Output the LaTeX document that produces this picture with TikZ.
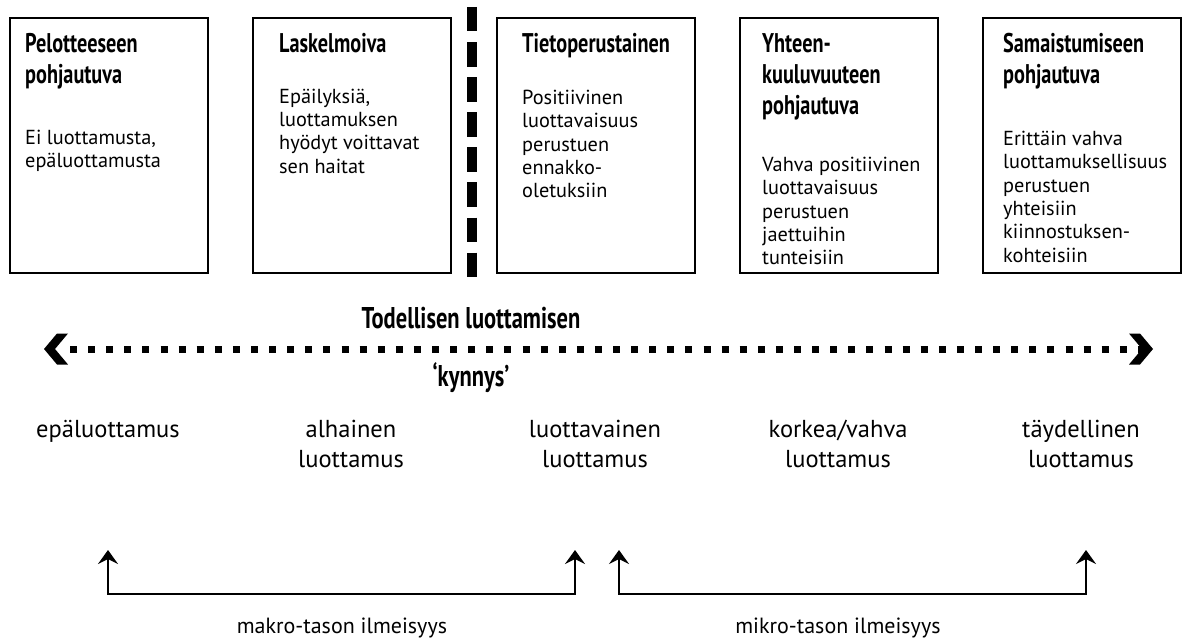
\documentclass[tikz,border=0pt]{standalone}
\usepackage{fontspec}
\setmainfont{PT Sans}
\newfontfamily\bodyfont{PT Sans}
\newfontfamily\headfont[FakeStretch=0.75]{PT Sans}
\usetikzlibrary{arrows.meta}
% invisible rule that fixes the height of a text block's first line
\newcommand\lineheight[1]{\rule{0pt}{#1}}
\begin{document}
\begin{tikzpicture}[x=1pt,y=-1pt,
  kindbox/.style={draw, line width=2.2pt, anchor=north west, inner sep=0pt,
    minimum width=198pt, minimum height=255pt},
  headtext/.style={anchor=north west, inner sep=0pt, align=left,
    font=\headfont\bfseries\fontsize{27}{31}\selectfont},
  bodytext/.style={anchor=north west, inner sep=0pt, align=left,
    font=\bodyfont\fontsize{20.3}{23.4}\selectfont},
  leveltext/.style={anchor=north, inner sep=0pt, align=center,
    font=\bodyfont\fontsize{24.5}{30}\selectfont},
  scopetext/.style={anchor=north, inner sep=0pt, align=center,
    font=\bodyfont\fontsize{22}{26}\selectfont},
  thresholdtext/.style={anchor=north, inner sep=0pt, align=center,
    font=\headfont\bfseries\fontsize{30}{34}\selectfont},
  dotline/.style={line width=7pt, line cap=butt, dash pattern=on 7pt off 11.1pt},
  splitline/.style={line width=10pt, line cap=butt, dash pattern=on 24.5pt off 10.6pt},
  bracket/.style={line width=2pt, {Stealth[length=14pt,width=20pt,inset=5pt]}-{Stealth[length=14pt,width=20pt,inset=5pt]}},
  chevron/.style={fill=black, draw=none}
]
\useasboundingbox (0,0) rectangle (1186,639);

% the five kinds of trust
\node[kindbox] (b1) at (9,17) {};
\node[kindbox] (b2) at (252,17) {};
\node[kindbox] (b3) at (496,17) {};
\node[kindbox] (b4) at (739,17) {};
\node[kindbox] (b5) at (982,17) {};

\node[headtext] (h1) at (25,28) {\lineheight{24pt}Pelotteeseen\\pohjautuva};
\node[bodytext] (d1) at (25,126) {\lineheight{18pt}Ei luottamusta,\\epäluottamusta};

\node[headtext] (h2) at (279,28) {\lineheight{24pt}Laskelmoiva};
\node[bodytext] (d2) at (279,85) {\lineheight{18pt}Epäilyksiä,\\luottamuksen\\hyödyt voittavat\\sen haitat};

\node[headtext] (h3) at (522,28) {\lineheight{24pt}Tietoperustainen};
\node[bodytext] (d3) at (522,86) {\lineheight{18pt}Positiivinen\\luottavaisuus\\perustuen\\ennakko-\\oletuksiin};

\node[headtext] (h4) at (762,28) {\lineheight{24pt}Yhteen-\\kuuluvuuteen\\pohjautuva};
\node[bodytext] (d4) at (762,153) {\lineheight{18pt}Vahva positiivinen\\luottavaisuus\\perustuen\\jaettuihin\\tunteisiin};

\node[headtext] (h5) at (1003,28) {\lineheight{24pt}Samaistumiseen\\pohjautuva};
\node[bodytext] (d5) at (1003,127) {\lineheight{18pt}Erittäin vahva\\luottamuksellisuus\\perustuen\\yhteisiin\\kiinnostuksen-\\kohteisiin};

% threshold of real trust
\coordinate (st) at (471.5,7);
\coordinate (sb) at (471.5,280.5);
\draw[splitline] (st) -- (sb);

\node[thresholdtext] (th) at (471,300) {\lineheight{28pt}Todellisen luottamisen};
\node[thresholdtext] (ky) at (471,358) {\lineheight{28pt}‘kynnys’};

% dotted scale with chevron ends
\coordinate (tl) at (44,349);
\coordinate (tr) at (1153,349);
\draw[dotline] ([xshift=26pt]tl) -- ([xshift=-10pt]tr);
\fill[chevron] (tl) -- ++(13,-15.5) -- ++(11,0) -- ++(-13,15.5) -- ++(13,15.5) -- ++(-11,0) -- cycle;
\fill[chevron] (tr) -- ++(-13,-15.5) -- ++(-11,0) -- ++(13,15.5) -- ++(-13,15.5) -- ++(11,0) -- cycle;

% levels of trust
\node[leveltext] (l1) at (108,415) {\lineheight{22pt}epäluottamus};
\node[leveltext] (l2) at (351,415) {\lineheight{22pt}alhainen\\luottamus};
\node[leveltext] (l3) at (595,415) {\lineheight{22pt}luottavainen\\luottamus};
\node[leveltext] (l4) at (838,415) {\lineheight{22pt}korkea/vahva\\luottamus};
\node[leveltext] (l5) at (1081,415) {\lineheight{22pt}täydellinen\\luottamus};

% macro and micro level brackets
\coordinate (ma) at (108,550);
\coordinate (mb) at (575,550);
\coordinate (mc) at (619,550);
\coordinate (md) at (1086,550);
\draw[bracket] (ma) -- ++(0,44) -| (mb);
\draw[bracket] (mc) -- ++(0,44) -| (md);

\node[scopetext] (s1) at (342,613) {\lineheight{20pt}makro-tason ilmeisyys};
\node[scopetext] (s2) at (838,613) {\lineheight{20pt}mikro-tason ilmeisyys};
\end{tikzpicture}
\end{document}
